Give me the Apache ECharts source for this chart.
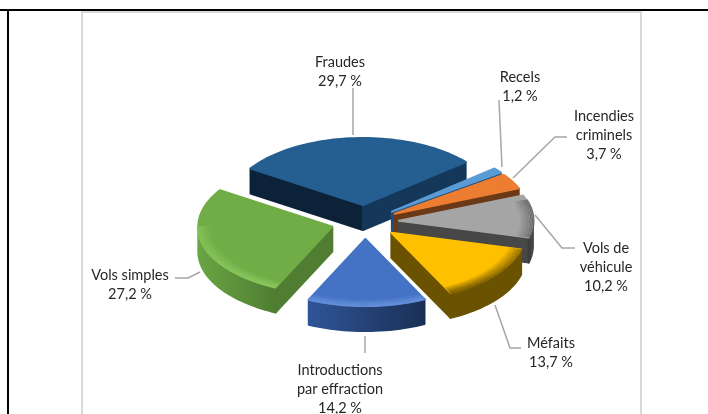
<!DOCTYPE html>
<html>
<head>
<meta charset="utf-8">
<style>html,body{margin:0;padding:0;background:#fff}#c{width:708px;height:414px}</style>
<script src="https://cdn.jsdelivr.net/npm/echarts@6/dist/echarts.min.js"></script>
</head>
<body>
<div id="c"></div>
<script>
// Data
const categories = ['Fraudes','Recels','Incendies\ncriminels','Vols de\nvéhicule','Méfaits','Introductions\npar effraction','Vols simples'];
const values = [29.7,1.2,3.7,10.2,13.7,14.2,27.2];
// Painting order (back to front)
const drawOrder = [0,1,2,3,4,6,5];
// Style
const topColors = ['#255E91','#5B9BD5','#ED7D31','#A5A5A5','#FFC000','#4472C4','#70AD47'];
const sideColors = ['#0C2238','#1F4E79','#6B3916','#474747','#6B5200','#24406F','#507D32'];
const endSideColors = ['#14375A','#1F4E79','#6B3916','#474747','#6B5200','#24406F','#507D32'];
const arcStops = [
  ['#0C2238','#0C2238'],['#1F4E79','#1F4E79'],['#6B3916','#6B3916'],['#3A3A3A','#4A4A4A'],
  ['#6B5200','#6B5200'],['#2F5597','#1A2F55'],['#6AA544','#4F7C31']];
const rimColors = [null,null,null,'#555555','#6B5200','#6E97E0','#93D066'];
const rimStrength = [0,0,0,0.8,0.85,0.7,0.7];
// Layout
const cx=365, cy=222, R=135, squash=0.5, depth=25, explode=34, startAngle=-57;
const labelPos = [[340,72],[520,87],[604,135],[606,267.5],[551,352.5],[340,389.5],[130,285]];
const leaders = [
  [[353,88],[353,135]],
  [[499,100],[502,167]],
  [[567,137],[555,137],[513,178]],
  [[575,248],[562,248],[535,215]],
  [[521,348],[510,348],[495,305]],
  [[365,336],[365,353]],
  [[175,278],[188,278],[200,272]]
];
const fontFamily = 'Lato, Carlito, sans-serif';
const total = values.reduce((a,b)=>a+b,0);
function pt(ox,oy,deg,r,dz){
  const t=deg*Math.PI/180;
  return [ox+r*Math.sin(t), oy-r*squash*Math.cos(t)+(dz||0)];
}
function arcPts(ox,oy,a,b,r,dz){
  const n=Math.max(2,Math.ceil(Math.abs(b-a)/2)), out=[];
  for(let k=0;k<=n;k++) out.push(pt(ox,oy,a+(b-a)*k/n,r,dz));
  return out;
}
function renderSlice(params,api){
  const i=api.value(0), v=api.value(1);
  let before=0; for(let k=0;k<i;k++) before+=values[k];
  const a=startAngle+before/total*360, b=a+v/total*360, mid=(a+b)/2;
  const [ox,oy]=pt(cx,cy,mid,explode,0);
  const kids=[];
  const poly=(points,fill,extra)=>kids.push({type:'polygon',silent:true,shape:{points},
    style:Object.assign({fill,stroke:fill,lineWidth:0.5},extra||{})});
  const norm=x=>((x%360)+360)%360;
  const ap=[ox,oy], apD=[ox,oy+depth];
  const rr=R-1;
  if(norm(a)>=180){ const p=pt(ox,oy,a,rr); poly([ap,p,[p[0],p[1]+depth],apD],sideColors[i],{lineWidth:2,lineJoin:'round'}); }
  if(norm(b)<=180){ const p=pt(ox,oy,b,rr); poly([ap,p,[p[0],p[1]+depth],apD],endSideColors[i],{lineWidth:2,lineJoin:'round'}); }
  const A=norm(a), span=b-a, ranges=[];
  const lo=Math.max(A,90), hi=Math.min(A+span,270);
  if(hi>lo) ranges.push([lo,hi]);
  ranges.forEach(([l,h])=>{
    const front=arcPts(ox,oy,l,h,rr,0), back=arcPts(ox,oy,h,l,rr,depth);
    poly(front.concat(back),new echarts.graphic.LinearGradient(0,0,1,0,[
      {offset:0,color:arcStops[i][0]},{offset:1,color:arcStops[i][1]}]),{lineWidth:2,lineJoin:'round'});
  });
  poly([ap].concat(arcPts(ox,oy,a,b,rr,0)),topColors[i],{lineWidth:2,lineJoin:'round'});
  if(rimColors[i]){
    const bands=i===3?[[Math.max(A,72),Math.min(A+span,104)]]:ranges;
    bands.forEach(([l,h])=>{
      for(let k=0;k<10;k++){
        kids.push({type:'polyline',silent:true,shape:{points:arcPts(ox,oy,l,h,R-k*1.5,0)},
          style:{fill:null,stroke:rimColors[i],lineWidth:1.2,lineCap:'round',opacity:rimStrength[i]*(1-k/10)}});
      }
    });
  }
  kids.push({type:'polyline',silent:true,z2:50,shape:{points:leaders[i]},
    style:{fill:null,stroke:'#A6A6A6',lineWidth:1.5}});
  kids.push({type:'text',silent:true,z2:60,x:labelPos[i][0],y:labelPos[i][1],
    style:{text:categories[i]+'\n'+v.toFixed(1).replace('.',',')+' %',
      font:'14.5px '+fontFamily,fill:'#262626',align:'center',verticalAlign:'middle',lineHeight:19}});
  return {type:'group',children:kids};
}
const chart=echarts.init(document.getElementById('c'),null,{renderer:'canvas'});
chart.setOption({
  backgroundColor:'#ffffff',
  animation:false,
  graphic:[
    {type:'line',z:-1,shape:{x1:0,y1:10,x2:708,y2:10},style:{stroke:'#000',lineWidth:2}},
    {type:'line',z:-1,shape:{x1:8,y1:10,x2:8,y2:414},style:{stroke:'#000',lineWidth:2}},
    {type:'line',z:-1,shape:{x1:81,y1:12,x2:642,y2:12},style:{stroke:'#D9D9D9',lineWidth:2}},
    {type:'line',z:-1,shape:{x1:82,y1:12,x2:82,y2:414},style:{stroke:'#D9D9D9',lineWidth:2}},
    {type:'line',z:-1,shape:{x1:641,y1:12,x2:641,y2:414},style:{stroke:'#D9D9D9',lineWidth:2}}
  ],
  series:[{
    type:'custom',
    coordinateSystem:'none',
    renderItem:renderSlice,
    encode:{value:1,itemName:2},
    data:drawOrder.map(i=>[i,values[i],categories[i]])
  }]
});
</script>
</body>
</html>
